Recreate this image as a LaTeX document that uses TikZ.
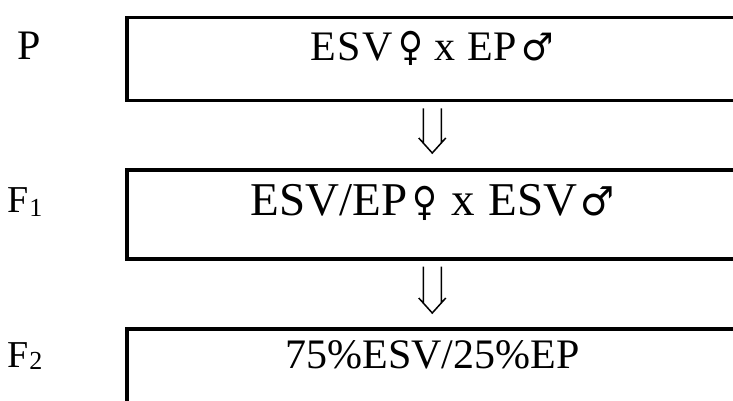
\documentclass[tikz,border=0pt]{standalone}
\usepackage{fontspec}
\setmainfont{Liberation Serif}
\newfontfamily\symfont{DejaVu Sans}
\usetikzlibrary{calc}
\newcommand{\fem}[1]{{\symfont\fontsize{#1}{#1}\selectfont\scalebox{0.85}[1]{♀}}}
\newcommand{\mal}[1]{{\symfont\fontsize{#1}{#1}\selectfont\scalebox{0.95}[1]{♂}}}
\begin{document}
\begin{tikzpicture}[x=1pt,y=-1pt,
  boxline/.style={draw=black, line width=3.5pt, inner sep=0pt, anchor=north west, minimum width=615pt},
  lbl/.style={anchor=base west, inner sep=0pt},
  txt/.style={anchor=base, inner sep=0pt},
  dblarrow/.style={line width=1.5pt, to path={
     ($(\tikztostart)+(-9pt,0pt)$) -- ($(\tikztotarget)+(-9pt,10pt)$)
     ($(\tikztostart)+(9pt,0pt)$) -- ($(\tikztotarget)+(9pt,10pt)$)
     ($(\tikztotarget)+(-13.5pt,15pt)$) -- (\tikztotarget) -- ($(\tikztotarget)+(13.5pt,15pt)$)}}]
\useasboundingbox (0,0) rectangle (733,401);
\clip (0,0) rectangle (733,401);
% boxes
\node[boxline, minimum height=83pt] (b1) at (125,16) {};
\node[boxline, minimum height=89pt] (b2) at (125,168) {};
\node[boxline, minimum height=100pt] (b3) at (125,327) {};
% generation labels
\node[lbl, font=\fontsize{42}{42}\selectfont] (lp) at (17,60) {P};
\node[lbl, font=\fontsize{38}{38}\selectfont] (lf1) at (7,212) {F\kern1pt\raisebox{-4pt}{\fontsize{26}{26}\selectfont 1}};
\node[lbl, font=\fontsize{38}{38}\selectfont] (lf2) at (7,367) {F\kern1pt\raisebox{-2pt}{\fontsize{26}{26}\selectfont 2}};
% box texts
\node[txt, font=\fontsize{42}{42}\selectfont] (t1) at (432.5,61)
  {E\kern1.5pt S\kern1.5pt V\kern5pt\fem{40}\kern12pt x\kern12pt EP\kern5pt\mal{38}};
\node[txt, font=\fontsize{47}{47}\selectfont] (t2) at (432.5,215)
  {ESV/EP\kern5pt\fem{40}\kern14pt x\kern14pt ESV\kern3pt\mal{40}};
\node[txt, font=\fontsize{42}{42}\selectfont] (t3) at (432.5,368) {75\%ESV/25\%EP};
% arrows
\coordinate (a1s) at ([xshift=-2pt,yshift=-6pt]b1.south);
\coordinate (a1e) at ([xshift=-2pt,yshift=15pt]b2.north);
\coordinate (a2s) at ([xshift=-2pt,yshift=-6pt]b2.south);
\coordinate (a2e) at ([xshift=-2pt,yshift=14pt]b3.north);
\draw[dblarrow] (a1s) to (a1e);
\draw[dblarrow] (a2s) to (a2e);
\end{tikzpicture}
\end{document}
